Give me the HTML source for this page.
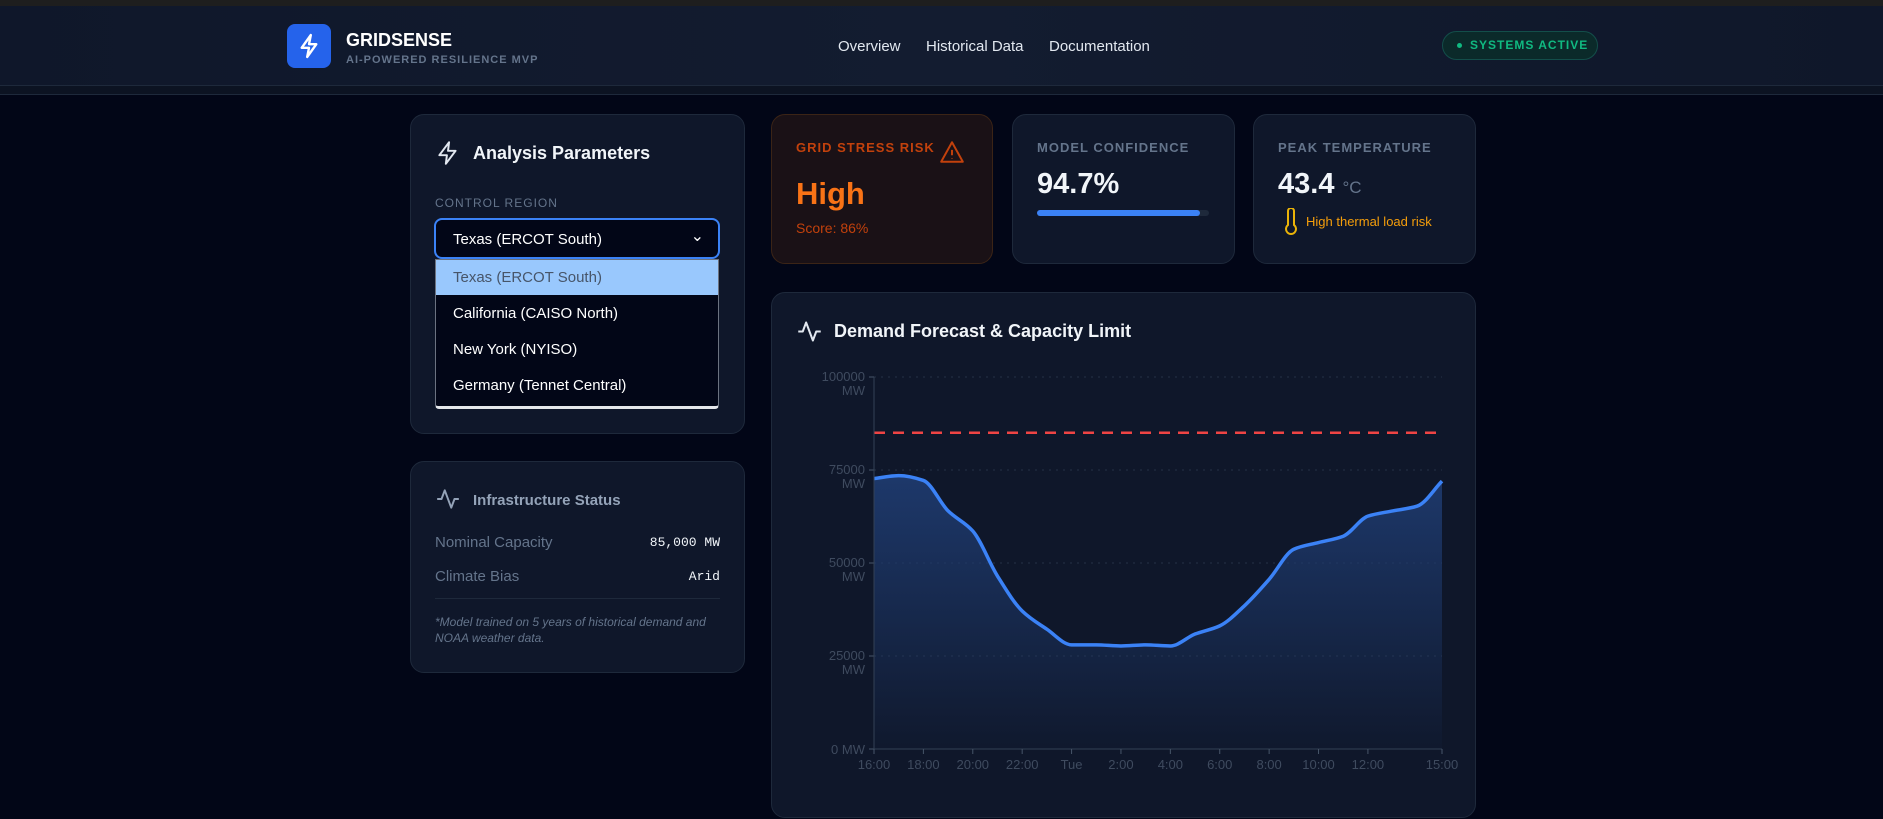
<!DOCTYPE html>
<html><head><meta charset="utf-8">
<style>
*{box-sizing:border-box;margin:0;padding:0}
body{width:1883px;height:819px;overflow:hidden;background:#020617;font-family:"Liberation Sans",sans-serif;color:#e2e8f0;position:relative}
.abs{position:absolute}
.card{position:absolute;background:#0f172a;border:1px solid #1e293b;border-radius:14px}
.lbl{font-size:13px;font-weight:bold;letter-spacing:1px;color:#64748b}
</style></head><body>
<div class="abs" style="left:0;top:0;width:1883px;height:6px;background:#1e1e1e"></div>
<div class="abs" style="left:0;top:6px;width:1883px;height:80px;background:linear-gradient(90deg,#0f172a,#131c30,#0f172a);border-bottom:1px solid #1e293b"></div>
<div class="abs" style="left:0;top:86px;width:1883px;height:9px;background:#0c1322;border-bottom:1px solid #1e293b"></div>
<div class="abs" style="left:287px;top:24px;width:44px;height:44px;background:#2563eb;border-radius:8px">
<svg width="44" height="44" viewBox="0 0 24 24"><path d="M13 6L8 13h4l-1 5 5-7h-4z" fill="none" stroke="#fff" stroke-width="1.3" stroke-linejoin="round"/></svg></div>
<div class="abs" style="left:346px;top:30px;font-size:18px;font-weight:bold;color:#fff">GRIDSENSE</div>
<div class="abs" style="left:346px;top:54px;font-size:11px;letter-spacing:1px;color:#64748b;font-weight:bold">AI-POWERED RESILIENCE MVP</div>
<div class="abs" style="left:838px;top:38px;font-size:15px;color:#e2e8f0">Overview</div>
<div class="abs" style="left:926px;top:38px;font-size:15px;color:#e2e8f0">Historical Data</div>
<div class="abs" style="left:1049px;top:38px;font-size:15px;color:#e2e8f0">Documentation</div>
<div class="abs" style="left:1442px;top:31px;width:156px;height:29px;border:1px solid #134e4a;background:#0b2a2a;border-radius:15px;color:#10b981;font-size:12px;font-weight:bold;letter-spacing:1px;line-height:27px;padding-left:14px"><span style="display:inline-block;width:5px;height:5px;border-radius:3px;background:#10b981;margin-right:8px;vertical-align:middle"></span>SYSTEMS ACTIVE</div>

<div class="card" style="left:410px;top:114px;width:335px;height:320px"></div>
<svg class="abs" style="left:435px;top:140px" width="26" height="26" viewBox="0 0 24 24"><path d="M13 2L4 14h7l-1 8 9-12h-7z" fill="none" stroke="#e2e8f0" stroke-width="1.8" stroke-linejoin="round"/></svg>
<div class="abs" style="left:473px;top:143px;font-size:18px;font-weight:bold;color:#f1f5f9">Analysis Parameters</div>
<div class="abs lbl" style="left:435px;top:196px;font-size:12px;font-weight:normal">CONTROL REGION</div>
<div class="abs" style="left:434px;top:218px;width:286px;height:41px;background:#020617;border:2px solid #3b82f6;border-radius:8px;font-size:15px;color:#fff;padding:11px 0 0 17px">Texas (ERCOT South)<span style="position:absolute;right:14px;top:6px;font-size:16px">⌄</span></div>
<div class="abs" style="left:435px;top:259px;width:284px;height:150px;background:#020617;border:1px solid #6b7280;border-bottom:3px solid #e5e7eb;border-radius:0 0 4px 4px;font-size:15px">
<div style="height:35px;background:#99c8fd;color:#475569;padding:9px 0 0 17px">Texas (ERCOT South)</div>
<div style="height:36px;color:#fff;padding:10px 0 0 17px">California (CAISO North)</div>
<div style="height:36px;color:#fff;padding:10px 0 0 17px">New York (NYISO)</div>
<div style="height:36px;color:#fff;padding:10px 0 0 17px">Germany (Tennet Central)</div>
</div>

<div class="card" style="left:410px;top:461px;width:335px;height:212px"></div>
<svg class="abs" style="left:435px;top:486px" width="26" height="26" viewBox="0 0 24 24"><path d="M2 12h4l3-8 6 16 3-8h4" fill="none" stroke="#94a3b8" stroke-width="1.8" stroke-linejoin="round"/></svg>
<div class="abs" style="left:473px;top:492px;font-size:15px;font-weight:bold;color:#94a3b8">Infrastructure Status</div>
<div class="abs" style="left:435px;top:534px;font-size:15px;color:#64748b">Nominal Capacity</div>
<div class="abs" style="right:1163px;top:535px;font-size:13px;color:#f1f5f9;font-family:'Liberation Mono',monospace">85,000 MW</div>
<div class="abs" style="left:435px;top:568px;font-size:15px;color:#64748b">Climate Bias</div>
<div class="abs" style="right:1163px;top:569px;font-size:13px;color:#f1f5f9;font-family:'Liberation Mono',monospace">Arid</div>
<div class="abs" style="left:435px;top:598px;width:285px;height:1px;background:#1e293b"></div>
<div class="abs" style="left:435px;top:614px;width:290px;font-size:12px;line-height:16px;font-style:italic;color:#64748b">*Model trained on 5 years of historical demand and NOAA weather data.</div>

<div class="card" style="left:771px;top:114px;width:222px;height:150px;background:#1a1116;border-color:#3b2416"></div>
<div class="abs lbl" style="left:796px;top:140px;color:#c2410c">GRID STRESS RISK</div>
<svg class="abs" style="left:939px;top:139px" width="26" height="26" viewBox="0 0 24 24"><path d="M12 3L2 21h20z" fill="none" stroke="#c2410c" stroke-width="1.8" stroke-linejoin="round"/><path d="M12 10v5M12 17.5v.5" stroke="#c2410c" stroke-width="1.8"/></svg>
<div class="abs" style="left:796px;top:176px;font-size:31px;font-weight:bold;color:#f97316">High</div>
<div class="abs" style="left:796px;top:220px;font-size:14px;color:#c2410c">Score: 86%</div>

<div class="card" style="left:1012px;top:114px;width:223px;height:150px"></div>
<div class="abs lbl" style="left:1037px;top:140px">MODEL CONFIDENCE</div>
<div class="abs" style="left:1037px;top:168px;font-size:29px;font-weight:bold;color:#f1f5f9">94.7%</div>
<div class="abs" style="left:1037px;top:210px;width:172px;height:6px;background:#1e293b;border-radius:3px"><div style="width:163px;height:6px;background:#3b82f6;border-radius:3px"></div></div>

<div class="card" style="left:1253px;top:114px;width:223px;height:150px"></div>
<div class="abs lbl" style="left:1278px;top:140px">PEAK TEMPERATURE</div>
<div class="abs" style="left:1278px;top:168px;font-size:29px;font-weight:bold;color:#f1f5f9">43.4 <span style="font-size:17px;font-weight:normal;color:#64748b">°C</span></div>
<svg class="abs" style="left:1283px;top:208px" width="16" height="28" viewBox="0 0 16 28"><path d="M5 3a3 3 0 0 1 6 0v14a5 5 0 1 1-6 0z" fill="none" stroke="#eab308" stroke-width="2"/></svg>
<div class="abs" style="left:1306px;top:214px;font-size:13px;color:#f59e0b">High thermal load risk</div>

<div class="card" style="left:771px;top:292px;width:705px;height:526px"></div>
<svg class="abs" style="left:796px;top:318px" width="27" height="27" viewBox="0 0 24 24"><path d="M2 12h4l3-8 6 16 3-8h4" fill="none" stroke="#e2e8f0" stroke-width="1.8" stroke-linejoin="round"/></svg>
<div class="abs" style="left:834px;top:321px;font-size:18px;font-weight:bold;color:#f1f5f9">Demand Forecast &amp; Capacity Limit</div>
<svg id="chart" class="abs" style="left:0;top:0" width="1883" height="819"></svg>

<script>
const hours=[0,1,2,3,4,5,6,7,8,9,10,11,12,13,14,15,16,17,18,19,20,21,22,23];
const demand=[72.7,73.5,72.2,64,58.6,46.5,37.1,32.2,28,28,27.7,28,27.7,30.9,33.1,38.5,45.6,53.7,55.5,57.2,62.6,64,65.3,72];
const capacity=85000;
const yTicks=[0,25000,50000,75000,100000];
const xTickHours=[0,2,4,6,8,10,12,14,16,18,20,23];
const xTickLabels=["16:00","18:00","20:00","22:00","Tue","2:00","4:00","6:00","8:00","10:00","12:00","15:00"];
const X0=874,X1=1442,Y0=749,Y1=377;
const xs=h=>X0+(X1-X0)*h/23;
const ys=v=>Y0-(Y0-Y1)*v/100000;
const svg=document.getElementById('chart');
const NS='http://www.w3.org/2000/svg';
function mk(t,a){const e=document.createElementNS(NS,t);for(const k in a)e.setAttribute(k,a[k]);svg.appendChild(e);return e;}
const defs=mk('defs',{});
defs.innerHTML='<linearGradient id="fg" x1="0" y1="0" x2="0" y2="1"><stop offset="0" stop-color="#1e3a6e" stop-opacity="0.95"/><stop offset="1" stop-color="#1e3a6e" stop-opacity="0.05"/></linearGradient>';
yTicks.forEach(v=>{
  if(v>0){const g=mk('line',{x1:X0,x2:X1,y1:ys(v),y2:ys(v),stroke:'#263246','stroke-dasharray':'2 5','stroke-width':1});
  }
  const tk=mk('line',{x1:X0-5,x2:X0,y1:ys(v),y2:ys(v),stroke:'#475569'});
  
  const t=mk('text',{x:X0-9,y:v===0?ys(v)+5:ys(v)+4,'text-anchor':'end','font-size':13,fill:'#3f4b5f','font-family':'Liberation Sans, sans-serif'});
  
  if(v===0)t.textContent='0 MW';else{t.innerHTML='<tspan x="'+(X0-9)+'">'+v+'</tspan><tspan x="'+(X0-9)+'" dy="14">MW</tspan>';}
});
const pts=hours.map((h,i)=>[xs(h),ys(demand[i]*1000)]);
function mono(p){const n=p.length,d=[],m=[];for(let i=0;i<n-1;i++)d.push((p[i+1][1]-p[i][1])/(p[i+1][0]-p[i][0]));
m[0]=d[0];m[n-1]=d[n-2];
for(let i=1;i<n-1;i++){m[i]=0;if(d[i-1]*d[i]>0){const w1=2*(p[i+1][0]-p[i][0])+(p[i][0]-p[i-1][0]),w2=(p[i+1][0]-p[i][0])+2*(p[i][0]-p[i-1][0]);m[i]=(w1+w2)/(w1/d[i-1]+w2/d[i]);}}
let s='M'+p[0][0]+','+p[0][1];for(let i=0;i<n-1;i++){const h=(p[i+1][0]-p[i][0])/3;s+=' C'+(p[i][0]+h)+','+(p[i][1]+m[i]*h)+' '+(p[i+1][0]-h)+','+(p[i+1][1]-m[i+1]*h)+' '+p[i+1][0]+','+p[i+1][1];}return s;}
const line=mono(pts);
const area=mk('path',{d:line+' L'+xs(23)+','+Y0+' L'+xs(0)+','+Y0+' Z',fill:'url(#fg)'});

const cap=mk('line',{x1:X0,x2:X1,y1:ys(capacity),y2:ys(capacity),stroke:'#ef4444','stroke-width':2.5,'stroke-dasharray':'11 8'});

const ln=mk('path',{d:line,fill:'none',stroke:'#3b82f6','stroke-width':3.5,'stroke-linejoin':'round'});

const ya=mk('line',{x1:X0,x2:X0,y1:Y1,y2:Y0,stroke:'#334155'});

const xa=mk('line',{x1:X0,x2:X1,y1:Y0,y2:Y0,stroke:'#334155'});

xTickHours.forEach((h,i)=>{
  const tk=mk('line',{x1:xs(h),x2:xs(h),y1:Y0,y2:Y0+5,stroke:'#475569'});
  
  const t=mk('text',{x:xs(h),y:Y0+20,'text-anchor':'middle','font-size':13,fill:'#3f4b5f','font-family':'Liberation Sans, sans-serif'});
  
  t.textContent=xTickLabels[i];
});
</script>
</body></html>
